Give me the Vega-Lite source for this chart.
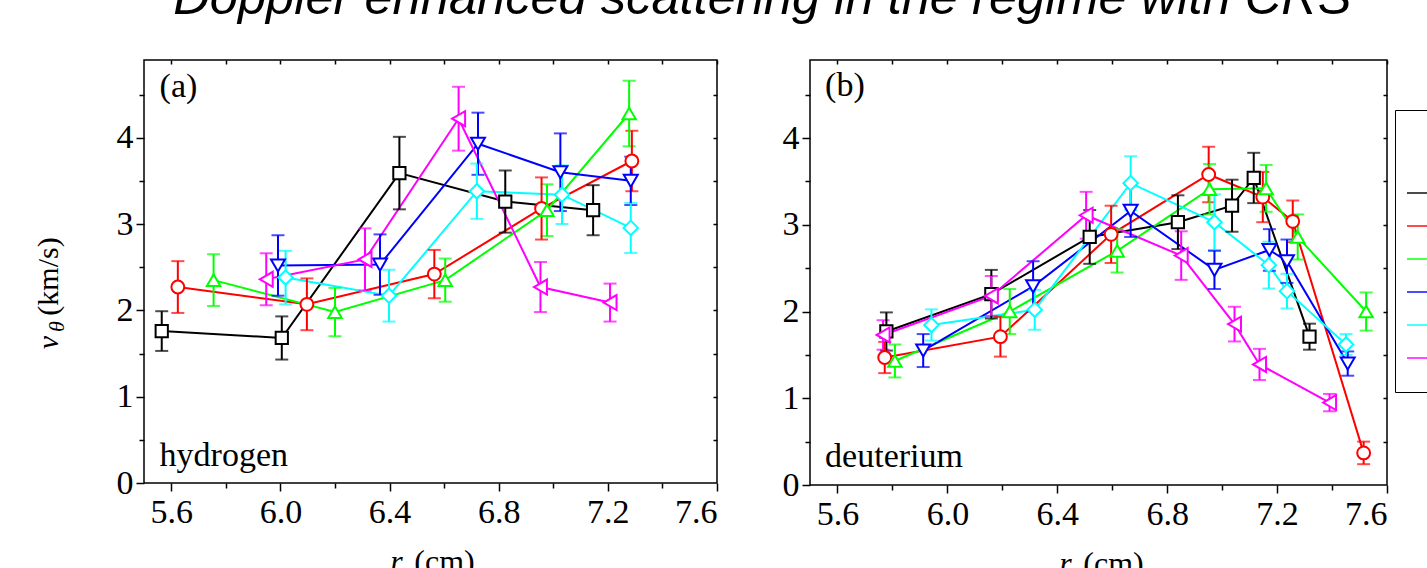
{
  "$schema": "https://vega.github.io/schema/vega-lite/v6.json",
  "padding": {"left": 32, "top": -27, "right": 0, "bottom": 0},
  "background": "white",
  "title": {"text": "Doppler enhanced scattering in the regime with CRS", "font": "Liberation Sans", "fontStyle": "italic", "fontWeight": "normal", "fontSize": 50.6, "anchor": "start", "dx": 141, "offset": 34, "color": "black"},
  "datasets": {
    "pts": [
      {"p":"a","s":"1","k":"square","r":5.565,"v":1.76,"e":0.23},
      {"p":"a","s":"1","k":"square","r":6.005,"v":1.68,"e":0.25},
      {"p":"a","s":"1","k":"square","r":6.436,"v":3.59,"e":0.42},
      {"p":"a","s":"1","k":"square","r":6.824,"v":3.26,"e":0.36},
      {"p":"a","s":"1","k":"square","r":7.146,"v":3.16,"e":0.29},
      {"p":"a","s":"2","k":"circle","r":5.624,"v":2.27,"e":0.30},
      {"p":"a","s":"2","k":"circle","r":6.097,"v":2.07,"e":0.30},
      {"p":"a","s":"2","k":"circle","r":6.564,"v":2.42,"e":0.28},
      {"p":"a","s":"2","k":"circle","r":6.957,"v":3.18,"e":0.36},
      {"p":"a","s":"2","k":"circle","r":7.288,"v":3.73,"e":0.35},
      {"p":"a","s":"3","k":"up","r":5.755,"v":2.35,"e":0.30},
      {"p":"a","s":"3","k":"up","r":6.20,"v":1.98,"e":0.28},
      {"p":"a","s":"3","k":"up","r":6.604,"v":2.35,"e":0.25},
      {"p":"a","s":"3","k":"up","r":6.977,"v":3.16,"e":0.30},
      {"p":"a","s":"3","k":"up","r":7.278,"v":4.28,"e":0.38},
      {"p":"a","s":"4","k":"down","r":5.991,"v":2.52,"e":0.35},
      {"p":"a","s":"4","k":"down","r":6.365,"v":2.53,"e":0.35},
      {"p":"a","s":"4","k":"down","r":6.724,"v":3.93,"e":0.36},
      {"p":"a","s":"4","k":"down","r":7.026,"v":3.60,"e":0.45},
      {"p":"a","s":"4","k":"down","r":7.284,"v":3.50,"e":0.28},
      {"p":"a","s":"5","k":"diamond","r":6.019,"v":2.38,"e":0.31},
      {"p":"a","s":"5","k":"diamond","r":6.398,"v":2.17,"e":0.30},
      {"p":"a","s":"5","k":"diamond","r":6.72,"v":3.38,"e":0.32},
      {"p":"a","s":"5","k":"diamond","r":7.032,"v":3.34,"e":0.34},
      {"p":"a","s":"5","k":"diamond","r":7.284,"v":2.955,"e":0.29},
      {"p":"a","s":"6","k":"left","r":5.948,"v":2.36,"e":0.30},
      {"p":"a","s":"6","k":"left","r":6.31,"v":2.59,"e":0.36},
      {"p":"a","s":"6","k":"left","r":6.653,"v":4.22,"e":0.37},
      {"p":"a","s":"6","k":"left","r":6.953,"v":2.27,"e":0.29},
      {"p":"a","s":"6","k":"left","r":7.208,"v":2.09,"e":0.22},
      {"p":"b","s":"1","k":"square","r":5.778,"v":1.77,"e":0.22},
      {"p":"b","s":"1","k":"square","r":6.16,"v":2.20,"e":0.28},
      {"p":"b","s":"1","k":"square","r":6.518,"v":2.86,"e":0.31},
      {"p":"b","s":"1","k":"square","r":6.839,"v":3.03,"e":0.31},
      {"p":"b","s":"1","k":"square","r":7.036,"v":3.22,"e":0.30},
      {"p":"b","s":"1","k":"square","r":7.115,"v":3.54,"e":0.29},
      {"p":"b","s":"1","k":"square","r":7.318,"v":1.71,"e":0.15},
      {"p":"b","s":"2","k":"circle","r":5.772,"v":1.47,"e":0.18},
      {"p":"b","s":"2","k":"circle","r":6.193,"v":1.71,"e":0.23},
      {"p":"b","s":"2","k":"circle","r":6.596,"v":2.89,"e":0.33},
      {"p":"b","s":"2","k":"circle","r":6.951,"v":3.58,"e":0.32},
      {"p":"b","s":"2","k":"circle","r":7.148,"v":3.32,"e":0.29},
      {"p":"b","s":"2","k":"circle","r":7.257,"v":3.04,"e":0.24},
      {"p":"b","s":"2","k":"circle","r":7.515,"v":0.37,"e":0.13},
      {"p":"b","s":"3","k":"up","r":5.809,"v":1.43,"e":0.19},
      {"p":"b","s":"3","k":"up","r":6.227,"v":2.00,"e":0.26},
      {"p":"b","s":"3","k":"up","r":6.618,"v":2.70,"e":0.25},
      {"p":"b","s":"3","k":"up","r":6.954,"v":3.41,"e":0.29},
      {"p":"b","s":"3","k":"up","r":7.16,"v":3.42,"e":0.27},
      {"p":"b","s":"3","k":"up","r":7.275,"v":2.86,"e":0.26},
      {"p":"b","s":"3","k":"up","r":7.524,"v":2.00,"e":0.22},
      {"p":"b","s":"4","k":"down","r":5.912,"v":1.55,"e":0.19},
      {"p":"b","s":"4","k":"down","r":6.312,"v":2.29,"e":0.29},
      {"p":"b","s":"4","k":"down","r":6.667,"v":3.16,"e":0.30},
      {"p":"b","s":"4","k":"down","r":6.972,"v":2.48,"e":0.22},
      {"p":"b","s":"4","k":"down","r":7.172,"v":2.71,"e":0.24},
      {"p":"b","s":"4","k":"down","r":7.236,"v":2.58,"e":0.25},
      {"p":"b","s":"4","k":"down","r":7.457,"v":1.40,"e":0.14},
      {"p":"b","s":"5","k":"diamond","r":5.942,"v":1.845,"e":0.18},
      {"p":"b","s":"5","k":"diamond","r":6.318,"v":2.02,"e":0.23},
      {"p":"b","s":"5","k":"diamond","r":6.667,"v":3.48,"e":0.31},
      {"p":"b","s":"5","k":"diamond","r":6.972,"v":3.03,"e":0.32},
      {"p":"b","s":"5","k":"diamond","r":7.17,"v":2.535,"e":0.27},
      {"p":"b","s":"5","k":"diamond","r":7.236,"v":2.235,"e":0.20},
      {"p":"b","s":"5","k":"diamond","r":7.451,"v":1.62,"e":0.12},
      {"p":"b","s":"6","k":"left","r":5.766,"v":1.73,"e":0.17},
      {"p":"b","s":"6","k":"left","r":6.16,"v":2.18,"e":0.23},
      {"p":"b","s":"6","k":"left","r":6.505,"v":3.11,"e":0.27},
      {"p":"b","s":"6","k":"left","r":6.851,"v":2.645,"e":0.28},
      {"p":"b","s":"6","k":"left","r":7.045,"v":1.855,"e":0.20},
      {"p":"b","s":"6","k":"left","r":7.136,"v":1.39,"e":0.18},
      {"p":"b","s":"6","k":"left","r":7.391,"v":0.95,"e":0.10}
    ],
    "one": [{}]
  },
  "spacing": 93,
  "bounds": "flush",
  "hconcat": [
    {
      "width": 573,
      "height": 423,
      "resolve": {"axis": {"x": "independent", "y": "independent"}},
      "layer": [
        {
          "data": {"name": "pts"},
          "transform": [{"filter": "datum.p === 'a'"}],
          "mark": {"type": "line", "strokeWidth": 2},
          "encoding": {
            "x": {"field": "r", "type": "quantitative", "scale": {"domain": [5.5, 7.6], "nice": false, "zero": false},
                  "axis": {"orient": "bottom", "values": [5.6, 6.0, 6.4, 6.8, 7.2, 7.6], "format": ".1f", "tickSize": 8, "labelPadding": 4, "labelFont": "Liberation Serif", "titleFont": "Liberation Serif", "title": "(cm)", "titleX": 300, "titleY": 88, "titleBaseline": "alphabetic", "titleAlign": "center"}},
            "y": {"field": "v", "type": "quantitative", "scale": {"domain": [0, 4.9], "nice": false},
                  "axis": {"orient": "left", "values": [0, 1, 2, 3, 4], "tickSize": 8, "labelPadding": 3, "labelFont": "Liberation Serif", "titleFont": "Liberation Serif", "title": "(km/s)", "titleFontSize": 30, "titleAngle": -90, "titleX": -87, "titleY": 216, "titleBaseline": "alphabetic", "titleAlign": "center"}},
            "color": {"field": "s", "type": "nominal", "scale": {"domain": ["1","2","3","4","5","6"], "range": ["#000000","#ff0000","#00ff00","#0000ff","#00ffff","#ff00ff"]},
                      "legend": {"orient": "none", "legendX": 1251, "legendY": 50, "title": " ", "titleFontSize": 40, "titlePadding": 9, "symbolType": "stroke", "symbolSize": 400, "symbolStrokeWidth": 2, "symbolOffset": -12, "strokeColor": "black", "padding": 20, "labelFontSize": 28, "labelFont": "Liberation Serif", "rowPadding": 5, "labelOffset": 10}}
          }
        },
        {
          "data": {"name": "pts"},
          "transform": [{"filter": "datum.p === 'a'"}],
          "mark": {"type": "errorbar", "ticks": true, "size": 13, "thickness": 2},
          "encoding": {
            "x": {"field": "r", "type": "quantitative",
                  "axis": {"orient": "bottom", "values": [5.8, 6.2, 6.6, 7.0, 7.4], "labels": false, "tickSize": 5, "domain": false, "titleFont": "Liberation Serif", "title": "r", "titleFontStyle": "italic", "titleX": 252, "titleY": 88, "titleBaseline": "alphabetic", "titleAlign": "center"}},
            "y": {"field": "v", "type": "quantitative",
                  "axis": {"orient": "left", "values": [0.5, 1.5, 2.5, 3.5, 4.5], "labels": false, "tickSize": 5, "domain": false, "titleFont": "Liberation Serif", "title": "v", "titleFontSize": 30, "titleFontStyle": "italic", "titleAngle": -90, "titleX": -87, "titleY": 282, "titleBaseline": "alphabetic", "titleAlign": "center"}},
            "yError": {"field": "e"},
            "color": {"field": "s", "type": "nominal",
                      "legend": {"orient": "none", "legendX": 1251, "legendY": 50, "title": " ", "titleFontSize": 40, "titlePadding": 9, "symbolType": "stroke", "symbolSize": 400, "symbolStrokeWidth": 2, "symbolOffset": -12, "strokeColor": "black", "padding": 20, "labelFontSize": 28, "labelFont": "Liberation Serif", "rowPadding": 5, "labelOffset": 10}}
          }
        },
        {
          "data": {"name": "pts"},
          "transform": [{"filter": "datum.p === 'a'"}],
          "mark": {"type": "point", "filled": false, "fill": "white", "fillOpacity": 1, "opacity": 1, "strokeWidth": 2},
          "encoding": {
            "x": {"field": "r", "type": "quantitative",
                  "axis": {"orient": "top", "values": [5.6, 5.8, 6.0, 6.2, 6.4, 6.6, 6.8, 7.0, 7.2, 7.4, 7.6], "labels": false, "tickSize": -4, "domain": false, "title": null}},
            "y": {"field": "v", "type": "quantitative",
                  "axis": {"orient": "right", "values": [0.5, 1, 1.5, 2, 2.5, 3, 3.5, 4, 4.5], "labels": false, "tickSize": -4, "domain": false, "titleFont": "Liberation Serif", "title": "θ", "titleFontStyle": "italic", "titleFontSize": 22, "titleAngle": -90, "titleX": -654, "titleY": 266, "titleBaseline": "alphabetic", "titleAlign": "center"}},
            "stroke": {"field": "k", "type": "nominal", "scale": {"domain": ["square","circle","up","down","diamond","left"], "range": ["#000000","#ff0000","#00ff00","#0000ff","#00ffff","#ff00ff"]}, "legend": null},
            "shape": {"field": "k", "type": "nominal", "scale": {"domain": ["square","circle","up","down","diamond","left"], "range": ["square","circle","triangle-up","triangle-down","diamond","triangle-left"]}, "legend": null},
            "size": {"field": "k", "type": "nominal", "scale": {"domain": ["square","circle","up","down","diamond","left"], "range": [150, 225, 350, 300, 370, 320]}, "legend": null}
          }
        },
        {
          "data": {"name": "one"},
          "mark": {"type": "text", "text": "(a)", "align": "left", "baseline": "alphabetic", "font": "Liberation Serif", "fontSize": 34, "color": "black"},
          "encoding": {"x": {"datum": 5.557, "type": "quantitative", "axis": null}, "y": {"datum": 4.47, "type": "quantitative", "axis": null}}
        },
        {
          "data": {"name": "one"},
          "mark": {"type": "text", "text": "hydrogen", "align": "left", "baseline": "alphabetic", "font": "Liberation Serif", "fontSize": 34, "color": "black"},
          "encoding": {"x": {"datum": 5.557, "type": "quantitative", "axis": null}, "y": {"datum": 0.2, "type": "quantitative", "axis": null}}
        }
      ]
    },
    {
      "width": 577,
      "height": 425,
      "resolve": {"axis": {"x": "independent", "y": "independent"}},
      "layer": [
        {
          "data": {"name": "pts"},
          "transform": [{"filter": "datum.p === 'b'"}],
          "mark": {"type": "line", "strokeWidth": 2},
          "encoding": {
            "x": {"field": "r", "type": "quantitative", "scale": {"domain": [5.5, 7.6], "nice": false, "zero": false},
                  "axis": {"orient": "bottom", "values": [5.6, 6.0, 6.4, 6.8, 7.2, 7.6], "format": ".1f", "tickSize": 8, "labelPadding": 4, "labelFont": "Liberation Serif", "titleFont": "Liberation Serif", "title": "(cm)", "titleX": 303, "titleY": 88, "titleBaseline": "alphabetic", "titleAlign": "center"}},
            "y": {"field": "v", "type": "quantitative", "scale": {"domain": [0, 4.9], "nice": false},
                  "axis": {"orient": "left", "values": [0, 1, 2, 3, 4], "tickSize": 8, "labelPadding": 3, "labelFont": "Liberation Serif", "title": null}},
            "color": {"field": "s", "type": "nominal",
                      "legend": {"orient": "none", "legendX": 1251, "legendY": 50, "title": " ", "titleFontSize": 40, "titlePadding": 9, "symbolType": "stroke", "symbolSize": 400, "symbolStrokeWidth": 2, "symbolOffset": -12, "strokeColor": "black", "padding": 20, "labelFontSize": 28, "labelFont": "Liberation Serif", "rowPadding": 5, "labelOffset": 10}}
          }
        },
        {
          "data": {"name": "pts"},
          "transform": [{"filter": "datum.p === 'b'"}],
          "mark": {"type": "errorbar", "ticks": true, "size": 13, "thickness": 2},
          "encoding": {
            "x": {"field": "r", "type": "quantitative",
                  "axis": {"orient": "bottom", "values": [5.8, 6.2, 6.6, 7.0, 7.4], "labels": false, "tickSize": 5, "domain": false, "titleFont": "Liberation Serif", "title": "r", "titleFontStyle": "italic", "titleX": 255, "titleY": 88, "titleBaseline": "alphabetic", "titleAlign": "center"}},
            "y": {"field": "v", "type": "quantitative",
                  "axis": {"orient": "left", "values": [0.5, 1.5, 2.5, 3.5, 4.5], "labels": false, "tickSize": 5, "domain": false, "title": null}},
            "yError": {"field": "e"},
            "color": {"field": "s", "type": "nominal",
                      "legend": {"orient": "none", "legendX": 1251, "legendY": 50, "title": " ", "titleFontSize": 40, "titlePadding": 9, "symbolType": "stroke", "symbolSize": 400, "symbolStrokeWidth": 2, "symbolOffset": -12, "strokeColor": "black", "padding": 20, "labelFontSize": 28, "labelFont": "Liberation Serif", "rowPadding": 5, "labelOffset": 10}}
          }
        },
        {
          "data": {"name": "pts"},
          "transform": [{"filter": "datum.p === 'b'"}],
          "mark": {"type": "point", "filled": false, "fill": "white", "fillOpacity": 1, "opacity": 1, "strokeWidth": 2},
          "encoding": {
            "x": {"field": "r", "type": "quantitative",
                  "axis": {"orient": "top", "values": [5.6, 5.8, 6.0, 6.2, 6.4, 6.6, 6.8, 7.0, 7.2, 7.4, 7.6], "labels": false, "tickSize": -4, "domain": false, "title": null}},
            "y": {"field": "v", "type": "quantitative",
                  "axis": {"orient": "right", "values": [0.5, 1, 1.5, 2, 2.5, 3, 3.5, 4, 4.5], "labels": false, "tickSize": -4, "domain": false, "title": null}},
            "stroke": {"field": "k", "type": "nominal", "legend": null},
            "shape": {"field": "k", "type": "nominal", "legend": null},
            "size": {"field": "k", "type": "nominal", "legend": null}
          }
        },
        {
          "data": {"name": "one"},
          "mark": {"type": "text", "text": "(b)", "align": "left", "baseline": "alphabetic", "font": "Liberation Serif", "fontSize": 34, "color": "black"},
          "encoding": {"x": {"datum": 5.555, "type": "quantitative", "axis": null}, "y": {"datum": 4.48, "type": "quantitative", "axis": null}}
        },
        {
          "data": {"name": "one"},
          "mark": {"type": "text", "text": "deuterium", "align": "left", "baseline": "alphabetic", "font": "Liberation Serif", "fontSize": 34, "color": "black"},
          "encoding": {"x": {"datum": 5.555, "type": "quantitative", "axis": null}, "y": {"datum": 0.207, "type": "quantitative", "axis": null}}
        }
      ]
    }
  ],
  "resolve": {"scale": {"color": "shared", "stroke": "shared", "shape": "shared", "size": "shared"}},
  "config": {
    "font": "Liberation Serif",
    "view": {"stroke": "black", "strokeWidth": 1.5},
    "axis": {"grid": false, "domain": false, "labelFont": "Liberation Serif", "labelFontSize": 34, "labelColor": "black", "tickColor": "black", "tickWidth": 1.5, "titleFont": "Liberation Serif", "titleFontSize": 32, "titleFontWeight": "normal", "titleColor": "black"},
    "legend": {"labelColor": "black", "titleColor": "black"}
  }
}
